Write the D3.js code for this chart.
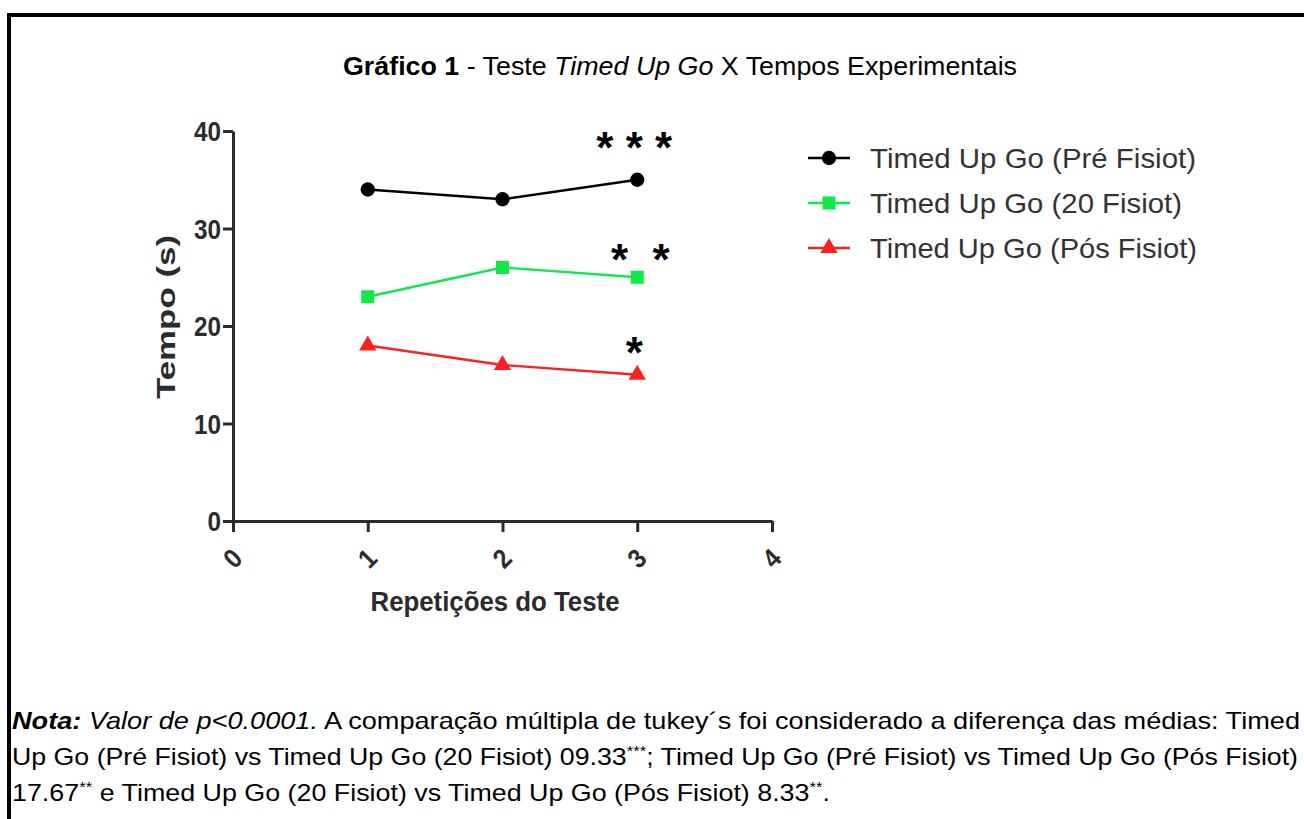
<!DOCTYPE html>
<html>
<head>
<meta charset="utf-8">
<script src="https://cdn.jsdelivr.net/npm/d3@7"></script>
<style>
  body { margin: 0; background: #fff; }
  text { font-family: "Liberation Sans", Arial, sans-serif; }
</style>
</head>
<body>
<div id="chart"></div>
<script>
// data
var repeticoes = [1, 2, 3];
var serieNomes = ["Timed Up Go (Pré Fisiot)", "Timed Up Go (20 Fisiot)", "Timed Up Go (Pós Fisiot)"];
var preFisiot = [34, 33, 35];
var vinteFisiot = [23, 26, 25];
var posFisiot = [18, 16, 15];
var serieCores = ["#000000", "#11e84a", "#ff1f1f"];
var serieSimbolos = [d3.symbolCircle, d3.symbolSquare, d3.symbolTriangle];
var xTicks = [0, 1, 2, 3, 4];
var yTicks = [0, 10, 20, 30, 40];
// significance marks above repetition 3
var asteriscos = ["* * *", "*\u00a0\u00a0*", "*"];
var asteriscoNivel = [39.0, 27.5, 18.0];

var width = 1304, height = 819;

var svg = d3.select("#chart").append("svg")
	.attr("width", width)
	.attr("height", height);

svg.append("rect").attr("width", width).attr("height", height).attr("fill", "#fff");

// frame of the figure
svg.append("path")
	.attr("d", "M9,830 L9,15 L1310,15")
	.attr("fill", "none")
	.attr("stroke", "#000")
	.attr("stroke-width", 4);

// title
var title = svg.append("text")
	.attr("x", 343).attr("y", 75)
	.attr("font-size", 25)
	.attr("fill", "#000")
	.attr("textLength", 674)
	.attr("lengthAdjust", "spacingAndGlyphs");
title.append("tspan").attr("font-weight", "bold").text("Gráfico 1");
title.append("tspan").text(" - Teste ");
title.append("tspan").attr("font-style", "italic").text("Timed Up Go");
title.append("tspan").text(" X Tempos Experimentais");

var x = d3.scaleLinear().domain([0, 4]).range([233, 772]);
var y = d3.scaleLinear().domain([0, 40]).range([521, 131]);

var axisColor = "#2b2b2b";

var yAxis = svg.append("g")
	.attr("transform", "translate(" + x(0) + ",0)")
	.call(d3.axisLeft(y).tickValues(yTicks).tickSize(10).tickSizeOuter(0).tickPadding(1));
var xAxis = svg.append("g")
	.attr("transform", "translate(0," + y(0) + ")")
	.call(d3.axisBottom(x).tickValues(xTicks).tickSize(11).tickSizeOuter(0).tickFormat(d3.format("d")));

[yAxis, xAxis].forEach(function (g) {
	g.select(".domain").attr("stroke", axisColor).attr("stroke-width", 3);
	g.selectAll(".tick line").attr("stroke", axisColor).attr("stroke-width", 3);
	g.selectAll(".tick text")
		.attr("fill", axisColor)
		.attr("font-weight", "bold")
		.attr("font-family", "Liberation Sans, Arial, sans-serif")
		.attr("font-size", 27);
});
yAxis.selectAll(".tick text").attr("transform", "scale(0.9,1)").attr("dy", "0.36em")
	.attr("x", -12 / 0.9);

xAxis.selectAll(".tick text")
	.attr("y", 0).attr("dy", 0)
	.attr("text-anchor", "middle")
	.attr("transform", "translate(-1,37) rotate(-45) scale(0.9,1)")
	.attr("dy", "0.36em");

// axis titles
svg.append("text")
	.attr("transform", "translate(175,317) rotate(-90)")
	.attr("text-anchor", "middle")
	.attr("font-size", 26)
	.attr("font-weight", "bold")
	.attr("fill", axisColor)
	.attr("textLength", 164)
	.attr("lengthAdjust", "spacingAndGlyphs")
	.text("Tempo (s)");

svg.append("text")
	.attr("x", 495).attr("y", 611)
	.attr("text-anchor", "middle")
	.attr("font-size", 27)
	.attr("font-weight", "bold")
	.attr("fill", axisColor)
	.attr("textLength", 249)
	.attr("lengthAdjust", "spacingAndGlyphs")
	.text("Repetições do Teste");

// series
var series = [preFisiot, vinteFisiot, posFisiot].map(function (vals, i) {
	return {
		name: serieNomes[i],
		color: serieCores[i],
		symbol: serieSimbolos[i],
		values: vals.map(function (v, j) { return { x: repeticoes[j], y: v }; })
	};
});

var line = d3.line().x(function (d) { return x(d.x); }).y(function (d) { return y(d.y); });
var symbolSize = [160, 170, 130];

series.forEach(function (s, i) {
	svg.append("path")
		.attr("d", line(s.values))
		.attr("fill", "none")
		.attr("stroke", s.color)
		.attr("stroke-width", 2.4);
	svg.selectAll(".pt" + i)
		.data(s.values)
		.enter().append("path")
		.attr("class", "pt" + i)
		.attr("transform", function (d) { return "translate(" + x(d.x) + "," + y(d.y) + ")"; })
		.attr("d", d3.symbol().type(s.symbol).size(symbolSize[i]))
		.attr("fill", s.color);
});

// asterisks
var asteriscoDx = [-3, 3, -3];
asteriscos.forEach(function (a, i) {
	svg.append("text")
		.attr("x", x(3) + asteriscoDx[i])
		.attr("y", y(asteriscoNivel[i]) + 22)
		.attr("text-anchor", "middle")
		.attr("font-size", 44)
		.attr("font-weight", "bold")
		.attr("fill", "#000")
		.text(a);
});

// legend
var legend = svg.append("g");
series.forEach(function (s, i) {
	var ly = 158 + i * 45;
	legend.append("line")
		.attr("x1", 808).attr("x2", 850).attr("y1", ly).attr("y2", ly)
		.attr("stroke", s.color).attr("stroke-width", 2.5);
	legend.append("path")
		.attr("transform", "translate(829," + ly + ")")
		.attr("d", d3.symbol().type(s.symbol).size(symbolSize[i]))
		.attr("fill", s.color);
	legend.append("text")
		.attr("x", 870).attr("y", ly + 10)
		.attr("font-size", 28)
		.attr("fill", "#333")
		.attr("textLength", [326, 312, 327][i])
		.attr("lengthAdjust", "spacingAndGlyphs")
		.text(s.name);
});

// note below the chart
var noteLines = [
	[["Nota:", "bold", "italic"], [" Valor de p<0.0001.", "normal", "italic"], [" A comparação múltipla de tukey´s foi considerado a diferença das médias: Timed", "normal", "normal"]],
	[["Up Go (Pré Fisiot) vs Timed Up Go (20 Fisiot) 09.33", "normal", "normal"], ["***", "sup"], ["; Timed Up Go (Pré Fisiot) vs Timed Up Go (Pós Fisiot)", "normal", "normal"]],
	[["17.67", "normal", "normal"], ["**", "sup"], [" e Timed Up Go (20 Fisiot) vs Timed Up Go (Pós Fisiot) 8.33", "normal", "normal"], ["**", "sup"], [".", "normal", "normal"]]
];
var noteLengths = [1288, 1286, 818];

noteLines.forEach(function (parts, i) {
	var t = svg.append("text")
		.attr("x", 12).attr("y", 729 + i * 36)
		.attr("font-size", 24)
		.attr("fill", "#000")
		.attr("textLength", noteLengths[i])
		.attr("lengthAdjust", "spacingAndGlyphs");
	var shifted = false;
	parts.forEach(function (p) {
		var ts = t.append("tspan");
		if (p[1] === "sup") {
			ts.attr("font-size", 15).attr("dy", -9);
			shifted = true;
		} else {
			ts.attr("font-weight", p[1]).attr("font-style", p[2]);
			if (shifted) { ts.attr("dy", 9); shifted = false; }
		}
		ts.text(p[0]);
	});
});
</script>
</body>
</html>
